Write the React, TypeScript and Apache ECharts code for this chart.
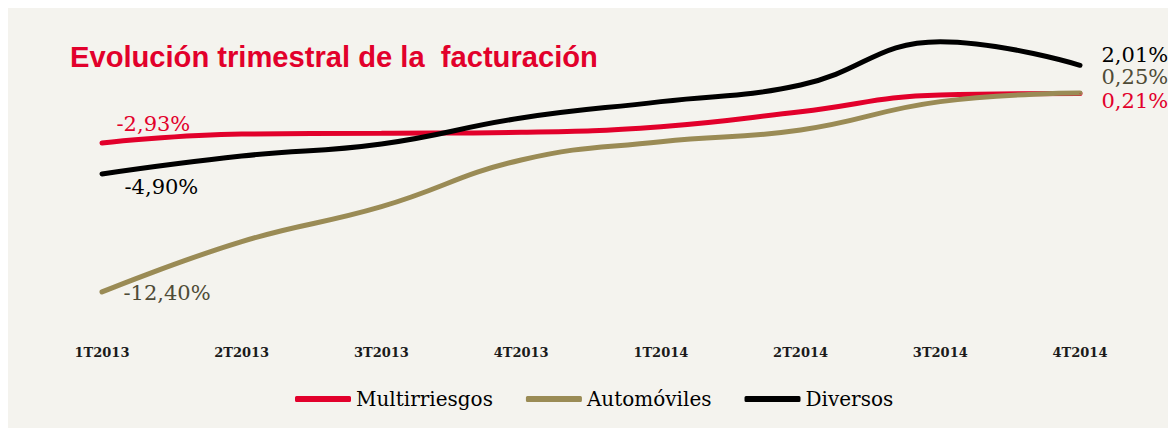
import React, { useEffect, useRef } from "react";
import * as echarts from "echarts";

const categories = ["1T2013", "2T2013", "3T2013", "4T2013", "1T2014", "2T2014", "3T2014", "4T2014"];
const seriesNames = ["Multirriesgos", "Automóviles", "Diversos"];
const multirriesgos = [-2.93, -2.36, -2.31, -2.25, -1.89, -0.94, 0.12, 0.21];
const automoviles = [-12.4, -9.2, -6.98, -4.01, -2.85, -2.1, -0.3, 0.25];
const diversos = [-4.9, -3.76, -2.99, -1.34, -0.3, 0.76, 3.51, 2.01];
const titleText = "Evolución trimestral de la  facturación";

const fmt = (v: number) => v.toFixed(2).replace(".", ",") + "%";

function withLabels(values: number[], color: string, first: number[], last: number[]) {
  return values.map((v, i) => {
    if (i === 0 || i === values.length - 1) {
      const off = i === 0 ? first : last;
      return {
        value: v,
        label: {
          show: true,
          position: "right",
          distance: off[0],
          offset: [0, off[1]],
          formatter: () => fmt(v),
          color,
          fontFamily: "DejaVu Serif",
          fontSize: 21,
        },
      };
    }
    return v;
  });
}

export default function App() {
  const ref = useRef<HTMLDivElement>(null);
  useEffect(() => {
    if (!ref.current) return;
    const chart = echarts.init(ref.current, null, { renderer: "svg" });
    const red = "#e2002b";
    const olive = "#9a8b55";
    const black = "#000000";
    const mk = (name: string, data: any[], color: string) => ({
      name,
      type: "line",
      data,
      smooth: 0.45,
      symbol: "circle",
      symbolSize: 1,
      showSymbol: true,
      lineStyle: { width: 5, color, cap: "round" },
      itemStyle: { color },
      z: 2,
    });
    chart.setOption({
      animation: false,
      backgroundColor: "#f4f3ee",
      graphic: [
        {
          type: "text",
          x: 62,
          y: 49,
          scaleX: 1.005,
          style: {
            text: titleText,
            x: 0,
            y: 0,
            fill: "#e2002b",
            font: "bold 29px 'Liberation Sans', Arial, sans-serif",
            align: "left",
            verticalAlign: "middle",
          },
        },
      ],
      legend: {
        data: seriesNames,
        left: 282,
        top: 376,
        itemWidth: 56,
        itemHeight: 6,
        itemGap: 33,
        icon: "roundRect",
        textStyle: { fontFamily: "DejaVu Serif", fontSize: 20, color: "#000" },
      },
      grid: { left: 94, right: 96, top: 26, bottom: 110.9 },
      xAxis: {
        type: "category",
        data: categories,
        boundaryGap: false,
        axisLine: { show: false },
        axisTick: { show: false },
        splitLine: { show: false },
        axisLabel: {
          margin: 29,
          fontFamily: "DejaVu Serif",
          fontWeight: "bold",
          fontSize: 13,
          color: "#1a1a1a",
        },
      },
      yAxis: {
        type: "value",
        min: -14,
        max: 4,
        show: false,
        splitLine: { show: false },
      },
      series: [
        mk(seriesNames[0], withLabels(multirriesgos, red, [14, -19], [21, 7]), red),
        mk(seriesNames[1], withLabels(automoviles, "#4f4b36", [21, 1], [21, -16]), olive),
        mk(seriesNames[2], withLabels(diversos, black, [22, 13], [21, -10]), black),
      ],
    });
    return () => chart.dispose();
  }, []);
  return <div ref={ref} style={{ width: 1168, height: 420 }} />;
}
